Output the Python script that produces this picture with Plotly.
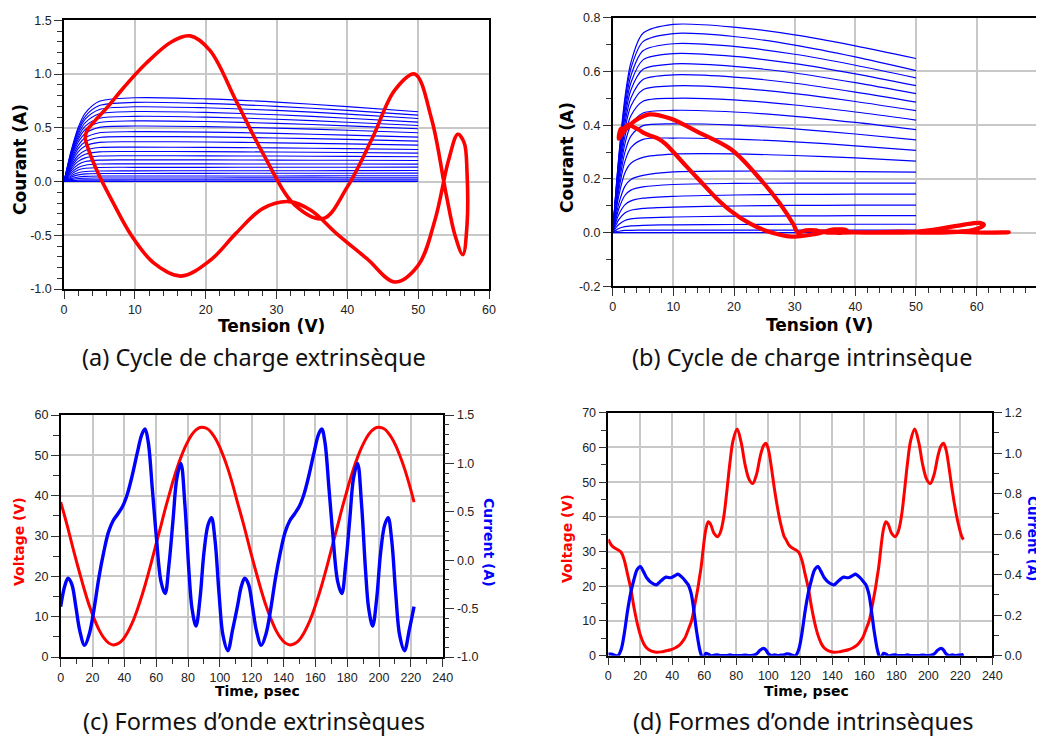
import plotly.graph_objects as go

# ------------------------------------------------------------------
# DATA
# ------------------------------------------------------------------
# I-V family : drain voltage grid (V) and currents (A) of each curve
iv_v = [0, 0.5, 1, 2, 3, 5, 10, 20, 30, 40, 50]

# panel (a) : 23 curves
iv_a = [
    [0, .148, .284, .502, .636, .746, .779, .769, .739, .697, .649],
    [0, .142, .274, .481, .607, .707, .736, .727, .699, .662, .618],
    [0, .137, .264, .461, .580, .670, .695, .686, .662, .627, .587],
    [0, .131, .252, .438, .547, .630, .651, .643, .621, .589, .553],
    [0, .125, .239, .415, .515, .588, .606, .599, .580, .552, .521],
    [0, .119, .228, .392, .484, .549, .564, .558, .541, .518, .491],
    [0, .112, .214, .365, .447, .504, .516, .511, .497, .477, .454],
    [0, .103, .198, .334, .407, .454, .464, .460, .448, .432, .413],
    [0, .096, .182, .306, .370, .410, .418, .415, .405, .392, .376],
    [0, .087, .165, .276, .331, .364, .370, .368, .360, .350, .339],
    [0, .078, .147, .242, .289, .316, .320, .318, .313, .306, .298],
    [0, .070, .131, .215, .254, .276, .279, .278, .274, .270, .264],
    [0, .061, .115, .187, .220, .237, .240, .239, .237, .234, .230],
    [0, .053, .098, .159, .186, .199, .201, .201, .199, .198, .196],
    [0, .044, .082, .131, .152, .163, .164, .164, .163, .163, .162],
    [0, .036, .067, .107, .123, .131, .132, .132, .133, .133, .134],
    [0, .028, .052, .081, .093, .098, .099, .100, .100, .101, .102],
    [0, .021, .040, .062, .071, .075, .075, .076, .077, .077, .078],
    [0, .015, .027, .042, .048, .051, .051, .052, .052, .053, .053],
    [0, .010, .018, .028, .031, .033, .033, .033, .034, .034, .034],
    [0, .005, .008, .013, .015, .015, .016, .016, .016, .016, .016],
    [0, .001, .002, .003, .004, .004, .004, .004, .004, .004, .004],
    [0, 0, 0, 0, 0, 0, 0, 0, 0, 0, 0],
]

# panel (b) : 20 curves
iv_b = [
    [0, .147, .283, .500, .633, .742, .775, .765, .736, .695, .648],
    [0, .143, .276, .484, .611, .711, .741, .730, .698, .654, .603],
    [0, .138, .266, .465, .584, .677, .703, .693, .664, .623, .576],
    [0, .133, .256, .446, .558, .643, .666, .656, .629, .591, .547],
    [0, .128, .246, .426, .531, .608, .628, .619, .594, .558, .517],
    [0, .123, .235, .404, .501, .570, .587, .579, .556, .523, .486],
    [0, .116, .223, .382, .471, .532, .546, .539, .517, .488, .454],
    [0, .110, .209, .356, .435, .489, .500, .494, .475, .449, .419],
    [0, .102, .195, .329, .400, .445, .455, .449, .433, .410, .383],
    [0, .094, .177, .298, .359, .398, .405, .400, .386, .367, .345],
    [0, .084, .158, .264, .316, .347, .352, .348, .338, .323, .306],
    [0, .073, .137, .222, .258, .280, .292, .293, .287, .278, .266],
    [0, .058, .108, .172, .198, .213, .226, .229, .229, .227, .225],
    [0, .048, .088, .138, .158, .170, .179, .183, .184, .184, .184],
    [0, .037, .067, .103, .118, .128, .135, .140, .142, .143, .143],
    [0, .026, .048, .073, .083, .090, .095, .099, .101, .102, .102],
    [0, .017, .030, .045, .051, .055, .058, .061, .062, .063, .063],
    [0, .008, .015, .022, .025, .027, .029, .030, .031, .031, .031],
    [0, .003, .005, .008, .0085, .009, .009, .009, .009, .009, .009],
    [0, 0, 0, 0, 0, 0, 0, 0, 0, 0, 0],
]

# panel (c) / loop (a) : extrinsic waveforms, time in psec
t_ext = [0, 2.5, 4.6, 7, 9.5, 12, 15, 18, 21, 24, 27, 30, 33, 36, 39, 42, 45, 48, 51, 53,
         55, 57.5, 60, 63, 65.6, 68, 70.5, 73, 75.5, 78, 80.5, 82.5, 85, 87.5, 90, 92.5, 94.7, 97, 99.5, 102,
         105, 108,
         111, 113.5, 115.6, 118, 120.5, 123, 126, 129, 132, 135, 138, 141, 144, 147, 150, 153, 156, 159, 162, 164,
         166, 168.5, 171, 174, 176.6, 179, 181.5, 184, 186.5, 189, 191.5, 193.5, 196, 198.5, 201, 203.5, 205.7, 208,
         210.5, 213, 216, 219, 222]
v_ext = [38.4, 34.9, 31.8, 28.1, 24.3, 20.7, 16.5, 12.7, 9.5, 6.8, 4.8, 3.5, 3.0, 3.3, 4.3, 6.1, 8.5, 11.6, 15.2, 17.8,
         20.6, 24.3, 28.1, 32.6, 36.6, 40.0, 43.5, 46.7, 49.5, 51.9, 53.9, 55.2, 56.3, 56.9, 56.9, 56.5, 55.6, 54.3, 52.4, 50.0,
         46.7, 42.8,
         38.4, 34.9, 31.8, 28.1, 24.3, 20.7, 16.5, 12.7, 9.5, 6.8, 4.8, 3.5, 3.0, 3.3, 4.3, 6.1, 8.5, 11.6, 15.2, 17.8,
         20.6, 24.3, 28.1, 32.6, 36.6, 40.0, 43.5, 46.7, 49.5, 51.9, 53.9, 55.2, 56.3, 56.9, 56.9, 56.5, 55.6, 54.3, 52.4, 50.0,
         46.7, 42.8, 38.4]
i_ext = [-0.48, -0.27, -0.187, -0.25, -0.48, -0.73, -0.88, -0.76, -0.50, -0.18, 0.08, 0.29, 0.41, 0.48, 0.56, 0.69, 0.88, 1.10, 1.30, 1.355,
         1.22, 0.75, 0.26, -0.22, -0.345, -0.05, 0.40, 0.85, 1.00, 0.58, -0.10, -0.50, -0.68, -0.40, 0.08, 0.36, 0.44, 0.20, -0.35, -0.78,
         -0.935, -0.72,
         -0.48, -0.27, -0.187, -0.25, -0.48, -0.73, -0.88, -0.76, -0.50, -0.18, 0.08, 0.29, 0.41, 0.48, 0.56, 0.69, 0.88, 1.10, 1.30, 1.355,
         1.22, 0.75, 0.26, -0.22, -0.345, -0.05, 0.40, 0.85, 1.00, 0.58, -0.10, -0.50, -0.68, -0.40, 0.08, 0.36, 0.44, 0.20, -0.35, -0.78,
         -0.935, -0.72, -0.48]

# panel (d) / loop (b) : intrinsic waveforms, time in psec
t_int = [0, 2, 4, 6, 8, 10, 12, 14, 16, 18, 20, 22, 24, 27, 30, 33, 36, 39, 42, 43.5,
         45, 47, 48, 49, 50, 51, 52, 53, 54, 55, 56, 57, 58, 59, 60, 61, 62.5, 64, 66, 68.3,
         70, 72, 74, 76, 78, 80.5, 83, 85.5, 88, 90.2, 92.5, 95, 97, 98.5, 100, 102, 104, 106, 108, 110,
         111, 113, 115, 117, 119, 121, 123, 125, 127, 129, 131, 133, 135, 138, 141, 144, 147, 150, 153, 154.5,
         156, 158, 159, 160, 161, 162, 163, 164, 165, 166, 167, 168, 169, 170, 171, 172, 173.5, 175, 177, 179.3,
         181, 183, 185, 187, 189, 191.5, 194, 196.5, 199, 201.2, 203.5, 206, 208, 209.5, 211, 213, 215, 217, 219, 221,
         222]
v_int = [33.5, 31.8, 31.0, 30.5, 29.8, 27.5, 23.5, 19.5, 14.0, 9.5, 6.0, 3.6, 2.2, 1.3, 1.0, 1.1, 1.4, 1.7, 2.3, 2.7,
         3.3, 4.5, 5.2, 6.3, 7.5, 8.7, 10.0, 12.0, 14.5, 17.0, 19.5, 22.5, 25.5, 29.5, 33.5, 36.5, 38.6, 37.8, 35.3, 34.3,
         35.5, 39.5, 47.0, 55.5, 62.0, 65.3, 61.5, 55.0, 50.8, 49.6, 52.0, 57.5, 60.5, 61.2, 59.5, 54.0, 47.5, 42.0, 37.5, 34.2,
         33.5, 31.8, 31.0, 30.5, 29.8, 27.5, 23.5, 19.5, 14.0, 9.5, 6.0, 3.6, 2.2, 1.3, 1.0, 1.1, 1.4, 1.7, 2.3, 2.7,
         3.3, 4.5, 5.2, 6.3, 7.5, 8.7, 10.0, 12.0, 14.5, 17.0, 19.5, 22.5, 25.5, 29.5, 33.5, 36.5, 38.6, 37.8, 35.3, 34.3,
         35.5, 39.5, 47.0, 55.5, 62.0, 65.3, 61.5, 55.0, 50.8, 49.6, 52.0, 57.5, 60.5, 61.2, 59.5, 54.0, 47.5, 42.0, 37.5, 34.2,
         33.5]
i_int = [0.008, 0.008, 0.002, 0.0, 0.03, 0.11, 0.22, 0.31, 0.375, 0.425, 0.44, 0.415, 0.385, 0.36, 0.35, 0.37, 0.388, 0.385, 0.397, 0.403,
         0.395, 0.38, 0.37, 0.36, 0.35, 0.33, 0.30, 0.25, 0.19, 0.13, 0.08, 0.035, 0.005, -0.015, -0.005, 0.012, 0.008, 0.0, 0.002, 0.004,
         0.0, 0.001, 0.0, 0.004, 0.0, 0.001, 0.0, 0.003, 0.0, 0.002, 0.008, 0.028, 0.036, 0.028, 0.01, 0.0, 0.004, 0.0, 0.003, 0.004,
         0.008, 0.008, 0.002, 0.0, 0.03, 0.11, 0.22, 0.31, 0.375, 0.425, 0.44, 0.415, 0.385, 0.36, 0.35, 0.37, 0.388, 0.385, 0.397, 0.403,
         0.395, 0.38, 0.37, 0.36, 0.35, 0.33, 0.30, 0.25, 0.19, 0.13, 0.08, 0.035, 0.005, -0.015, -0.005, 0.012, 0.008, 0.0, 0.002, 0.004,
         0.0, 0.001, 0.0, 0.004, 0.0, 0.001, 0.0, 0.003, 0.0, 0.002, 0.008, 0.028, 0.036, 0.028, 0.01, 0.0, 0.004, 0.0, 0.003, 0.004,
         0.008]

period = 111  # psec, one RF cycle (used to select the load-cycle points)

# tick labels
a_yvals = [-1.0, -0.5, 0.0, 0.5, 1.0, 1.5]
a_ytext = ["-1.0", "-0.5", "0.0", "0.5", "1.0", "1.5"]
b_yvals = [-0.2, 0.0, 0.2, 0.4, 0.6, 0.8]
b_ytext = ["-0.2", "0.0", "0.2", "0.4", "0.6", "0.8"]
d_yvals = [0.0, 0.2, 0.4, 0.6, 0.8, 1.0, 1.2]
d_ytext = ["0.0", "0.2", "0.4", "0.6", "0.8", "1.0", "1.2"]

captions = ["(a) Cycle de charge extrinsèque", "(b) Cycle de charge intrinsèque",
            "(c) Formes d\u2019onde extrinsèques", "(d) Formes d\u2019onde intrinsèques"]

# ------------------------------------------------------------------
RED = "#ff0000"
BLUE = "#0000ff"
PAGE_OFF = 8              # default body margin of the html page
FW, FH = 1036, 728        # figure size so that it fills the 1044x736 window

fig = go.Figure()

# (a) I-V family + loop
for row in iv_a:
    fig.add_trace(go.Scatter(x=iv_v, y=row, mode="lines", line=dict(color=BLUE, width=1.1, shape="spline", smoothing=0.8),
                             xaxis="x", yaxis="y", showlegend=False, hoverinfo="skip"))
loop_a = [k for k, t in enumerate(t_ext) if t <= period]
fig.add_trace(go.Scatter(x=[v_ext[k] for k in loop_a], y=[i_ext[k] for k in loop_a], mode="lines",
                         line=dict(color=RED, width=3.6, shape="spline", smoothing=1.0),
                         xaxis="x", yaxis="y", showlegend=False))

# (b) I-V family + loop
for row in iv_b:
    fig.add_trace(go.Scatter(x=iv_v, y=row, mode="lines", line=dict(color=BLUE, width=1.2, shape="spline", smoothing=0.8),
                             xaxis="x2", yaxis="y2", showlegend=False, hoverinfo="skip"))
loop_b = [k for k, t in enumerate(t_int) if t <= period]
fig.add_trace(go.Scatter(x=[v_int[k] for k in loop_b], y=[i_int[k] for k in loop_b], mode="lines",
                         line=dict(color=RED, width=4.2, shape="spline", smoothing=1.0),
                         xaxis="x2", yaxis="y2", showlegend=False))

# (c) waveforms
fig.add_trace(go.Scatter(x=t_ext, y=v_ext, mode="lines", line=dict(color=RED, width=3, shape="spline", smoothing=1.0),
                         xaxis="x3", yaxis="y3", showlegend=False))
fig.add_trace(go.Scatter(x=t_ext, y=i_ext, mode="lines", line=dict(color=BLUE, width=3.4, shape="spline", smoothing=1.0),
                         xaxis="x3", yaxis="y4", showlegend=False))

# (d) waveforms
fig.add_trace(go.Scatter(x=t_int, y=v_int, mode="lines", line=dict(color=RED, width=3, shape="spline", smoothing=1.0),
                         xaxis="x4", yaxis="y5", showlegend=False))
fig.add_trace(go.Scatter(x=t_int, y=i_int, mode="lines", line=dict(color=BLUE, width=3.2, shape="spline", smoothing=1.0),
                         xaxis="x4", yaxis="y6", showlegend=False))

TICKFONT = dict(family="Liberation Sans, Arial, sans-serif", size=12.5, color="#222")


def axis(**kw):
    base = dict(showline=True, linecolor="black", linewidth=1.5, mirror=True,
                ticks="outside", ticklen=8, tickwidth=1.2, tickcolor="#333",
                showgrid=True, gridcolor="#c8c8c8", gridwidth=1.5, zeroline=False,
                tickfont=TICKFONT, fixedrange=True, automargin=False)
    base.update(kw)
    return base


def minor(d, ln=5):
    return dict(ticks="outside", ticklen=ln, tickwidth=1, tickcolor="#333", dtick=d, showgrid=False)


def fx(X):
    return (X - PAGE_OFF) / FW


def fy(Y):
    return 1 - (Y - PAGE_OFF) / FH


def px(x0, x1):
    return [fx(x0), fx(x1)]


def py(ytop, ybot):
    return [fy(ybot), fy(ytop)]


fig.update_layout(
    width=FW, height=FH, autosize=False,
    margin=dict(l=0, r=0, t=0, b=0, autoexpand=False),
    paper_bgcolor="white", plot_bgcolor="white",
    # (a)
    xaxis=axis(domain=px(64, 489), range=[0, 60], dtick=10, anchor="y", minor=minor(2)),
    yaxis=axis(domain=py(20.3, 289), range=[-1, 1.5], tickmode="array", tickvals=a_yvals, ticktext=a_ytext,
               anchor="x", minor=dict(minor(0.1), tick0=0)),
    # (b)
    xaxis2=axis(domain=px(612.7, 1037.3), range=[0, 70], dtick=10, anchor="y2", minor=minor(2)),
    yaxis2=axis(domain=py(17.7, 286.3), range=[-0.2, 0.8], tickmode="array", tickvals=b_yvals, ticktext=b_ytext,
                anchor="x2", minor=dict(minor(0.1), tick0=0)),
    # (c)
    xaxis3=axis(domain=px(60.7, 442.7), range=[0, 240], dtick=20, anchor="y3", minor=minor(10)),
    yaxis3=axis(domain=py(415, 657), range=[0, 60], dtick=10, anchor="x3", minor=minor(5, 6)),
    yaxis4=axis(range=[-1, 1.5], tickmode="array", tickvals=a_yvals, ticktext=a_ytext, overlaying="y3",
                side="right", anchor="x3", showgrid=False, ticklen=10, minor=dict(minor(0.1), tick0=0)),
    # (d)
    xaxis4=axis(domain=px(608.3, 992.3), range=[0, 240], dtick=20, anchor="y5", minor=minor(10)),
    yaxis5=axis(domain=py(412.7, 655.7), range=[0, 70], dtick=10, anchor="x4", minor=minor(5, 6)),
    yaxis6=axis(range=[0, 1.2], tickmode="array", tickvals=d_yvals, ticktext=d_ytext, overlaying="y5",
                side="right", anchor="x4", showgrid=False, ticklen=8, minor=dict(minor(0.1), tick0=0)),
)

TITLE = "DejaVu Sans, Verdana, sans-serif"
ann = []


def label(text, X, Y, size, color="black", angle=0, family=TITLE, bold=True):
    ann.append(dict(text=("<b>%s</b>" % text) if bold else text, x=fx(X), y=fy(Y), xref="paper", yref="paper",
                    xanchor="center", yanchor="middle", showarrow=False, textangle=angle,
                    font=dict(family=family, size=size, color=color)))


# axis titles
label("Courant (A)", 20, 160, 17, angle=-90)
label("Tension (V)", 271, 326, 17)
label("Courant (A)", 567, 158, 17, angle=-90)
label("Tension (V)", 819, 325, 17)
label("Voltage (V)", 19, 542, 14, color=RED, angle=-90)
label("Current (A)", 489, 542, 14, color=BLUE, angle=90)
label("Time, psec", 257, 691, 14)
label("Voltage (V)", 567, 539, 14, color=RED, angle=-90)
label("Current (A)", 1033, 539, 13.5, color=BLUE, angle=90)
label("Time, psec", 806, 691, 14)

# captions
CAP = "Noto Sans, Lato, sans-serif"
label(captions[0], 254, 357, 23.5, color="#111", family=CAP, bold=False)
label(captions[1], 802, 357, 23.5, color="#111", family=CAP, bold=False)
label(captions[2], 254, 721, 23.5, color="#111", family=CAP, bold=False)
label(captions[3], 803, 721, 23.5, color="#111", family=CAP, bold=False)

fig.update_layout(annotations=ann)

fig.write_html("out.html")
